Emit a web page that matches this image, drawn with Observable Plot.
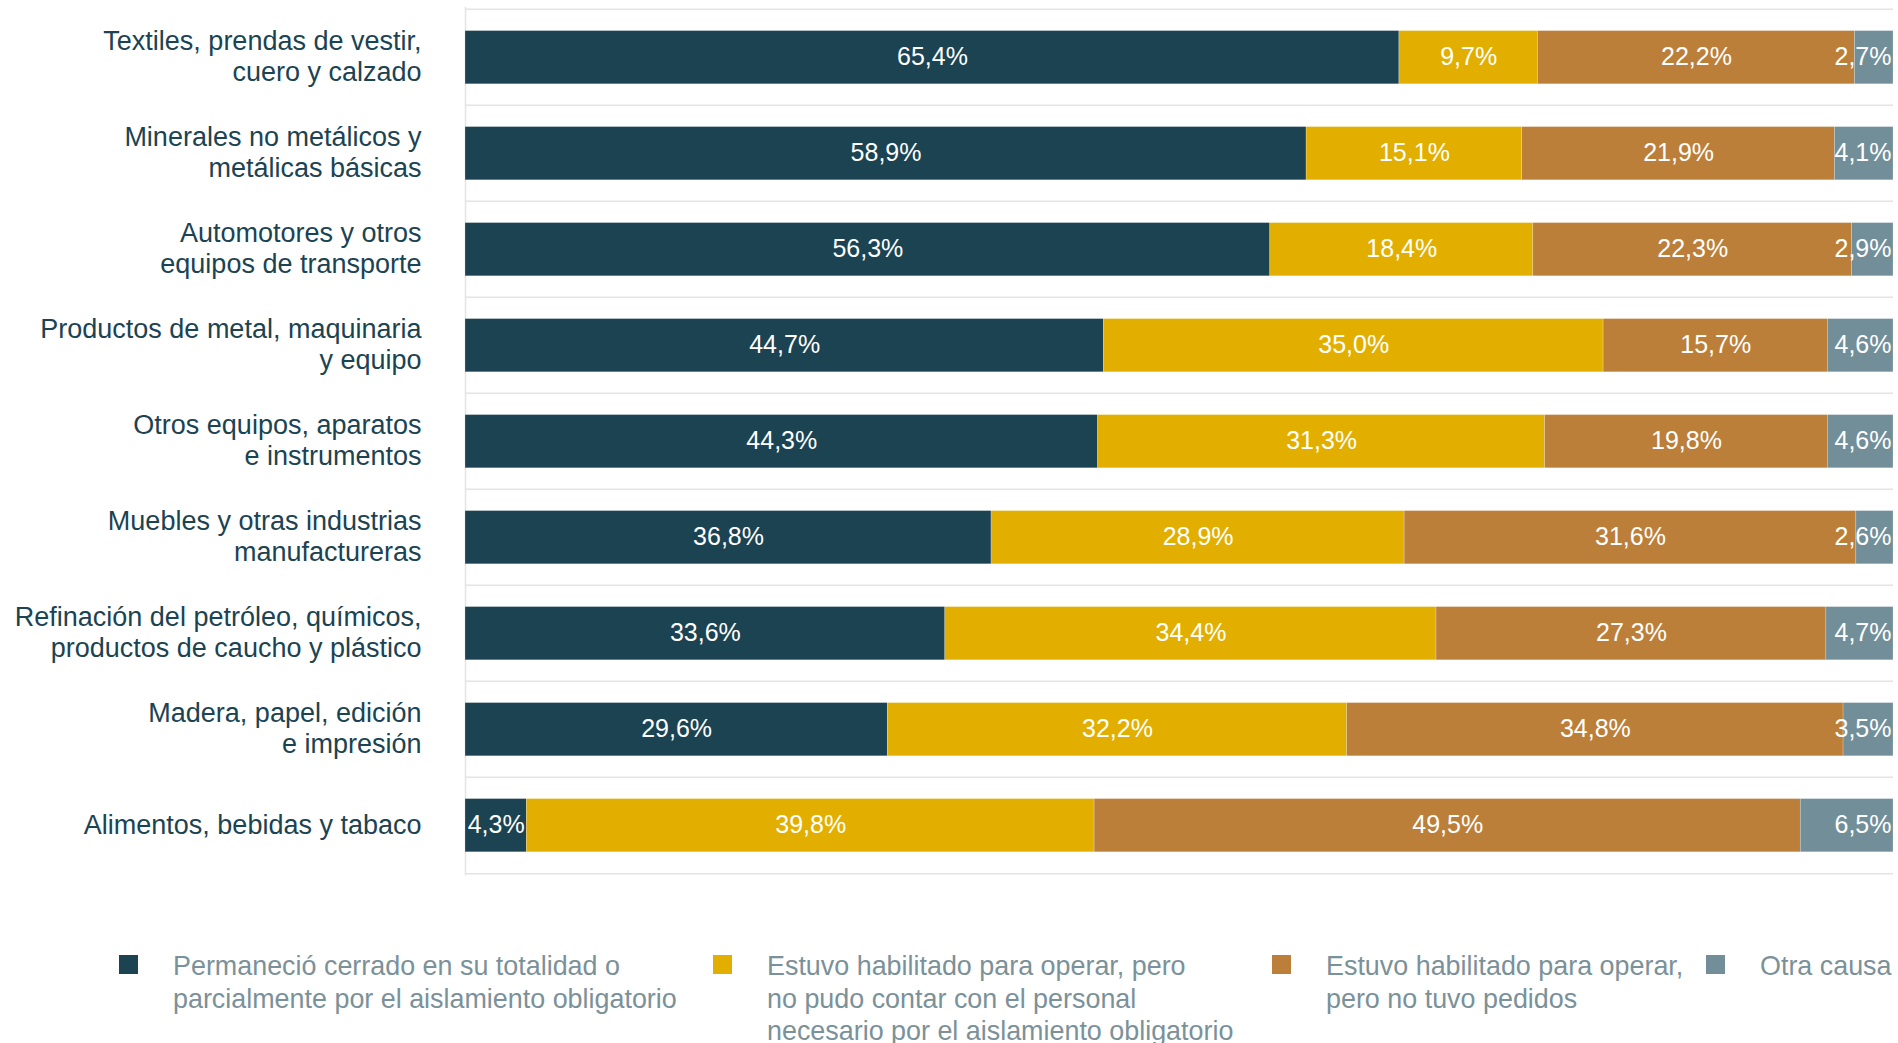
<!DOCTYPE html>
<html>
<head>
<meta charset="utf-8">
<script src="https://cdn.jsdelivr.net/npm/d3@7"></script>
<script src="https://cdn.jsdelivr.net/npm/@observablehq/plot@0.6"></script>
<style>
  html, body { margin: 0; padding: 0; background: #ffffff; }
  body { width: 1898px; height: 1043px; position: relative; overflow: hidden; font-family: "Liberation Sans", Arial, sans-serif; }
  #chart { position: absolute; left: 0; top: 0; }
  .legend-item { position: absolute; top: 955px; }
  .legend-swatch { position: absolute; left: 0; top: 0; width: 19px; height: 19px; }
  .legend-text { position: absolute; left: 54px; top: -5px; font-size: 26.9px; line-height: 32.5px; color: #7b9199; white-space: nowrap; }
</style>
</head>
<body>
<div id="chart"></div>
<div id="legend"></div>
<script>
// Categories, top to bottom
const categories = [
  "Textiles, prendas de vestir,\ncuero y calzado",
  "Minerales no metálicos y\nmetálicas básicas",
  "Automotores y otros\nequipos de transporte",
  "Productos de metal, maquinaria\ny equipo",
  "Otros equipos, aparatos\ne instrumentos",
  "Muebles y otras industrias\nmanufactureras",
  "Refinación del petróleo, químicos,\nproductos de caucho y plástico",
  "Madera, papel, edición\ne impresión",
  "Alimentos, bebidas y tabaco"
];

// Series
const seriesNames = [
  "Permaneció cerrado en su totalidad o parcialmente por el aislamiento obligatorio",
  "Estuvo habilitado para operar, pero no pudo contar con el personal necesario por el aislamiento obligatorio",
  "Estuvo habilitado para operar, pero no tuvo pedidos",
  "Otra causa"
];
const legendLines = [
  ["Permaneció cerrado en su totalidad o", "parcialmente por el aislamiento obligatorio"],
  ["Estuvo habilitado para operar, pero", "no pudo contar con el personal", "necesario por el aislamiento obligatorio"],
  ["Estuvo habilitado para operar,", "pero no tuvo pedidos"],
  ["Otra causa"]
];
const seriesColors = ["#1b4352", "#e2af00", "#bc7f39", "#728f99"];

// Values (%) per series, in category order
const closedValues   = [65.4, 58.9, 56.3, 44.7, 44.3, 36.8, 33.6, 29.6, 4.3];
const staffValues    = [9.7, 15.1, 18.4, 35.0, 31.3, 28.9, 34.4, 32.2, 39.8];
const noOrderValues  = [22.2, 21.9, 22.3, 15.7, 19.8, 31.6, 27.3, 34.8, 49.5];
const otherValues    = [2.7, 4.1, 2.9, 4.6, 4.6, 2.6, 4.7, 3.5, 6.5];

const seriesValues = [closedValues, staffValues, noOrderValues, otherValues];
const rows = [];
categories.forEach((cat, i) => {
  seriesNames.forEach((s, j) => {
    rows.push({cat, series: s, value: seriesValues[j][i]});
  });
});
const lastSeries = seriesNames[seriesNames.length - 1];
const lastRows = rows.filter(d => d.series === lastSeries);

const fmt = v => v.toFixed(1).replace(".", ",") + "%";

const W = 1898, H = 900, mT = 6.7, mL = 465, mR = 5;
const plotH = 868.9;
const mB = H - mT - plotH;
const bw = plotH / categories.length;
const insetTop = 21.6, insetBottom = 21.2;
const grid = "#e3e3e8";

const chart = Plot.plot({
  width: W,
  height: H,
  marginTop: mT,
  marginBottom: mB,
  marginLeft: mL,
  marginRight: mR,
  style: {fontFamily: '"Liberation Sans", Arial, sans-serif', background: "white"},
  x: {axis: null, domain: [0, 1]},
  y: {axis: null, domain: categories, padding: 0},
  color: {domain: seriesNames, range: seriesColors},
  marks: [
    Plot.ruleY(categories, {y: d => d, dy: -bw / 2, stroke: grid, strokeWidth: 1.5}),
    Plot.ruleY(categories.slice(-1), {y: d => d, dy: bw / 2, stroke: grid, strokeWidth: 1.5}),
    Plot.ruleX([0], {stroke: grid, strokeWidth: 1.5}),
    Plot.barX(rows, Plot.stackX({
      x: "value", y: "cat", z: "series", fill: "series", offset: "normalize",
      insetTop, insetBottom,
      stroke: "white", strokeOpacity: 0.35, strokeWidth: 0.6
    })),
    Plot.text(rows, Plot.stackX({
      x: "value", y: "cat", z: "series", offset: "normalize",
      text: d => d.series === lastSeries ? null : fmt(d.value),
      fill: "white", fontSize: 25, dy: -0.5
    })),
    Plot.text(lastRows, {
      y: "cat", text: d => fmt(d.value), frameAnchor: "right", textAnchor: "end", dx: -2,
      fill: "white", fontSize: 25, dy: -0.5
    }),
    Plot.text(categories, {
      y: d => d, text: d => d, frameAnchor: "left", textAnchor: "end", dx: -44, dy: -2,
      fill: "#1b4352", fontSize: 27, lineHeight: 1.16
    })
  ]
});
document.getElementById("chart").appendChild(chart);

// Legend
const legendX = [119, 713, 1272, 1706];
const legend = document.getElementById("legend");
seriesNames.forEach((s, j) => {
  const item = document.createElement("div");
  item.className = "legend-item";
  item.style.left = legendX[j] + "px";
  const sw = document.createElement("div");
  sw.className = "legend-swatch";
  sw.style.background = seriesColors[j];
  const tx = document.createElement("div");
  tx.className = "legend-text";
  tx.innerHTML = legendLines[j].join("<br>");
  item.appendChild(sw);
  item.appendChild(tx);
  legend.appendChild(item);
});
</script>
</body>
</html>
